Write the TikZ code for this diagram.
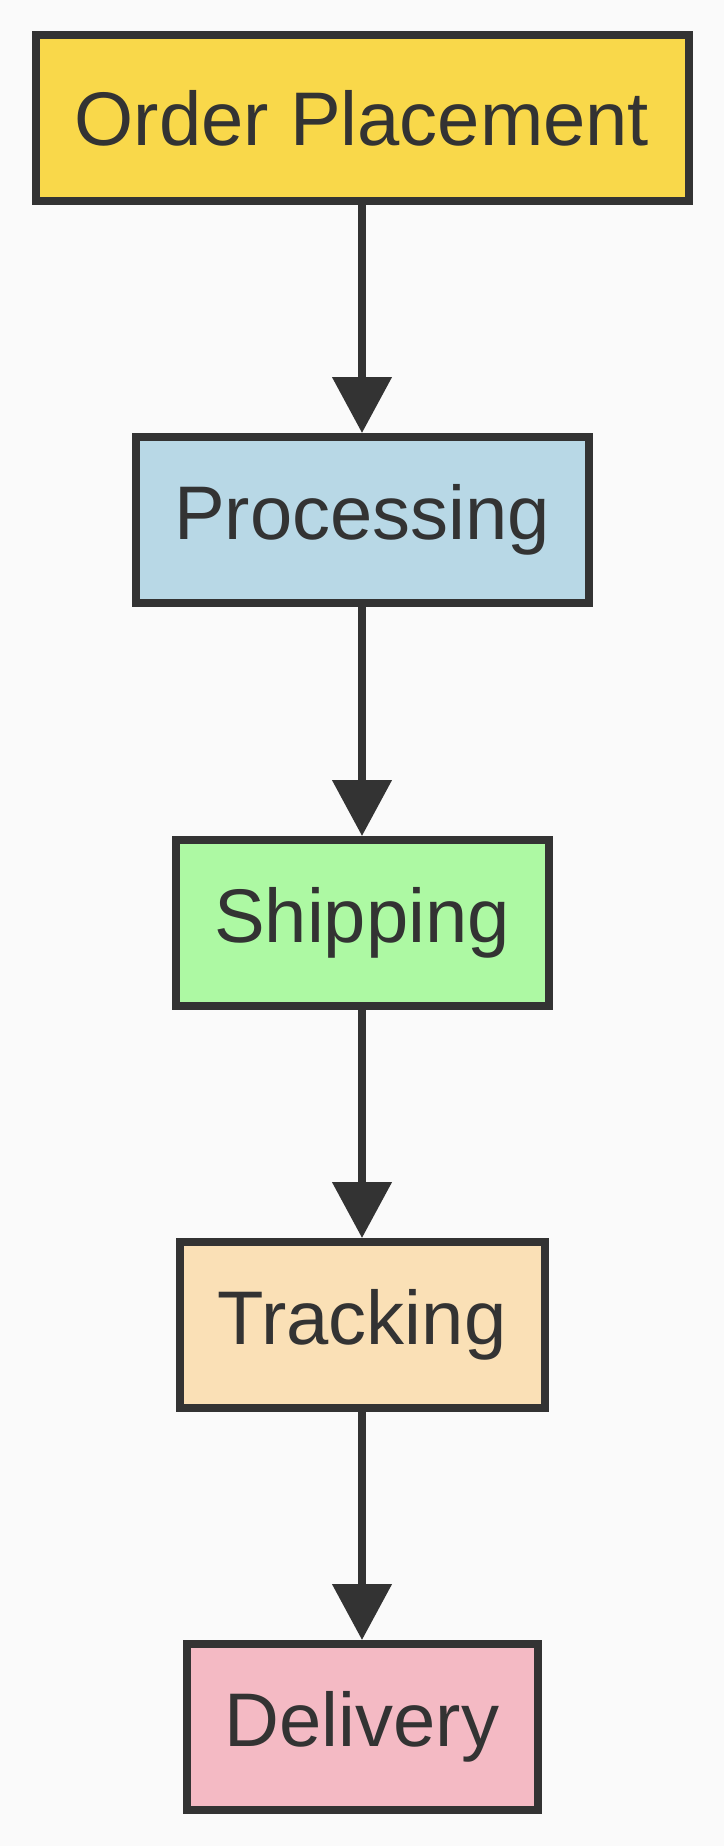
\documentclass[tikz,border=0pt]{standalone}
\usepackage{fontspec}
\setmainfont{Liberation Sans}
\usetikzlibrary{arrows.meta}
\definecolor{ink}{HTML}{333333}
\definecolor{cA}{HTML}{F9D84A}
\definecolor{cB}{HTML}{B8D8E6}
\definecolor{cC}{HTML}{ADF9A3}
\definecolor{cD}{HTML}{FAE0B6}
\definecolor{cE}{HTML}{F4BAC4}
\tikzset{
 box/.style={draw=ink,line width=8pt,minimum height=166pt,inner sep=0pt,text=ink,font=\fontsize{76pt}{80pt}\selectfont},
 conn/.style={draw=ink,line width=8pt,-{Triangle[length=56pt,width=58pt]}}
}
\begin{document}
\begin{tikzpicture}[x=1pt,y=-1pt]
\fill[white!98!black] (0,0) rectangle (724,1846);
\useasboundingbox (0,0) rectangle (724,1846);
\node[box,fill=cA,minimum width=653pt] (a) at (362,118) {Order Placement};
\node[box,fill=cB,minimum width=453pt] (b) at (362,520) {Processing};
\node[box,fill=cC,minimum width=373pt] (c) at (362,923) {Shipping};
\node[box,fill=cD,minimum width=365pt] (d) at (362,1325) {Tracking};
\node[box,fill=cE,minimum width=351pt] (e) at (362,1727) {Delivery};
\draw[conn] (a) -- (b);
\draw[conn] (b) -- (c);
\draw[conn] (c) -- (d);
\draw[conn] (d) -- (e);
\end{tikzpicture}
\end{document}
